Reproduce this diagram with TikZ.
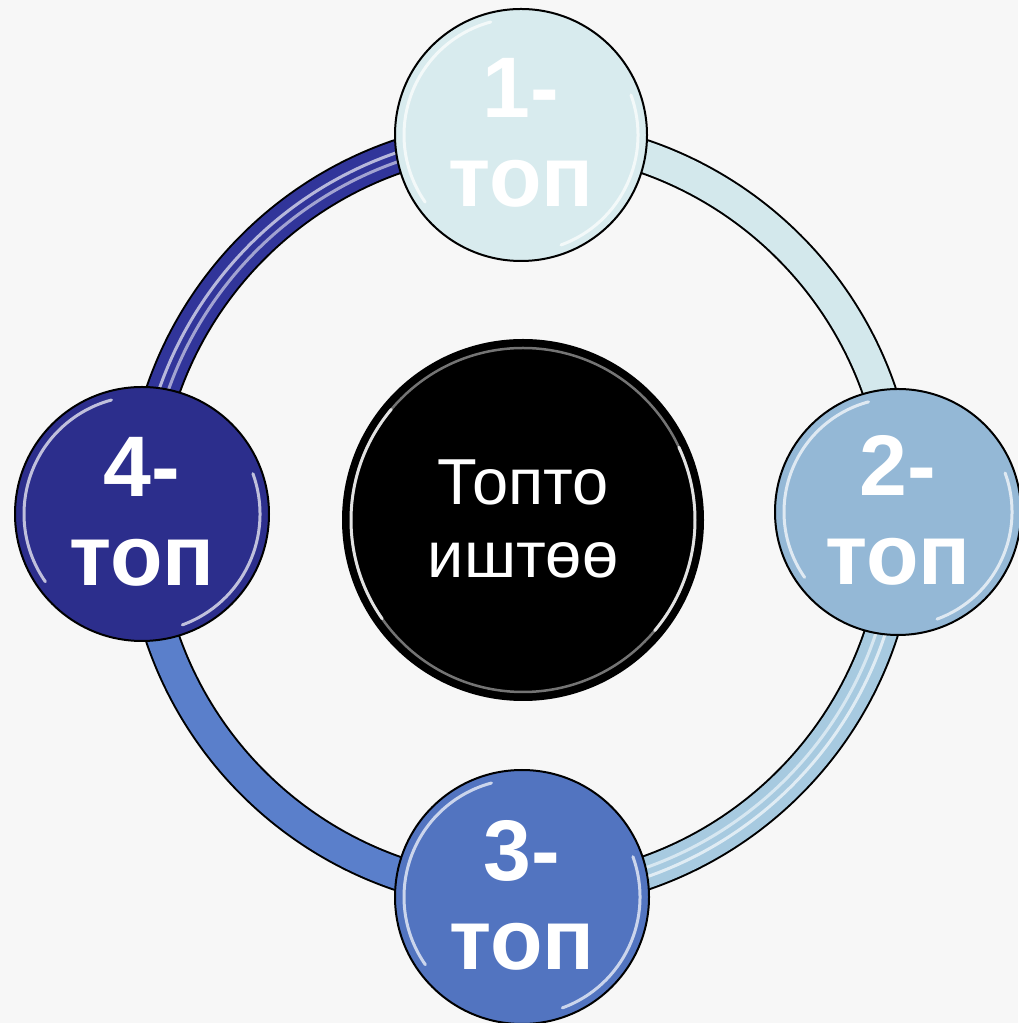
\documentclass[tikz,border=0pt]{standalone}
\usepackage{fontspec}
\setmainfont{Liberation Sans}
\definecolor{bg}{HTML}{F7F7F7}
\definecolor{cA}{HTML}{D8EBEE}
\definecolor{cB}{HTML}{94B8D6}
\definecolor{cC}{HTML}{5274C0}
\definecolor{cD}{HTML}{2C2E8C}
\definecolor{rA}{HTML}{D3E8EC}
\definecolor{rB}{HTML}{A7CAE0}
\definecolor{rC}{HTML}{5A7FCB}
\definecolor{rD}{HTML}{31359A}
\begin{document}
\begin{tikzpicture}[x=1pt,y=1pt,
  bubble/.style={circle, draw=black, line width=2, inner sep=0pt, outer sep=0pt,
    text=white, align=center, font=\fontsize{86}{89}\selectfont\bfseries},
  hub/.style={circle, draw=black, line width=2, fill=black, inner sep=0pt, outer sep=0pt,
    text=white, align=center, font=\fontsize{65}{73}\selectfont},
  tubeout/.style={line width=35, draw=black},
  shine/.style={draw=white, line width=3, opacity=.7, line cap=round}]
\useasboundingbox (0,0) rectangle (1018,1023);
\fill[bg] (0,0) rectangle (1018,1023);
\coordinate (rc) at (521,508);
\def\R{379}
% ring segments
\foreach \s/\e/\col/\st in {90/0/rA/0, 0/-90/rB/1, -90/-180/rC/0, 180/90/rD/1}{
  \draw[tubeout] (rc) ++(\s:\R) arc[start angle=\s, end angle=\e, radius=\R];
  \draw[line width=31, draw=\col] (rc) ++(\s:\R) arc[start angle=\s, end angle=\e, radius=\R];
  \ifnum\st=1
    \draw[white, opacity=.65, line width=3] (rc) ++(\s:\R+4) arc[start angle=\s, end angle=\e, radius=\R+4];
    \draw[white, opacity=.55, line width=3] (rc) ++(\s:\R-5) arc[start angle=\s, end angle=\e, radius=\R-5];
  \fi
}
% circles
\foreach \n/\x/\y/\r/\col/\txt in {n1/521/888/126/cA/{1-\\топ}, n2/898/511/123/cB/{2-\\топ},
    n3/522/126/127/cC/{3-\\топ}, n4/142/509/127/cD/{4-\\топ}}{
  \node[bubble, fill=\col, minimum size=2*\r] (\n) at (\x,\y) {};
  \draw[shine] (\n.center) ++(215:\r-9) arc[start angle=215, end angle=105, radius=\r-9];
  \draw[shine] (\n.center) ++(20:\r-9) arc[start angle=20, end angle=-70, radius=\r-9];
  \node[bubble, draw=none] (\n t) at (\x,\y+2) {\txt};
}
% centre
\node[hub, minimum size=360] (hub) at (523,503) {};
\draw[gray!70, line width=2.5, opacity=.7] (hub.center) circle[radius=172];
\draw[white, line width=3, opacity=.8, line cap=round] (hub.center) ++(215:172) arc[start angle=215, end angle=140, radius=172];
\draw[white, line width=3, opacity=.8, line cap=round] (hub.center) ++(25:172) arc[start angle=25, end angle=-40, radius=172];
\node[hub, draw=none, fill=none] (hubt) at (523,504) {Топто\\иштөө};
\end{tikzpicture}
\end{document}
